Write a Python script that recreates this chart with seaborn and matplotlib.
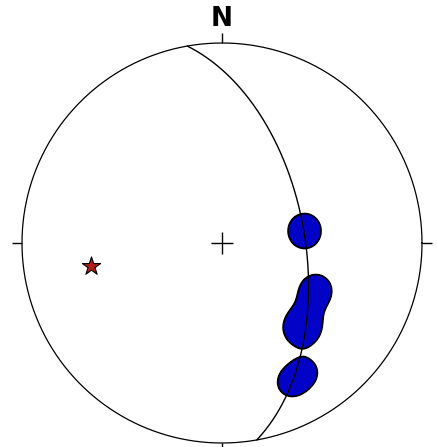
import numpy as np
import matplotlib
matplotlib.use("Agg")
import matplotlib.pyplot as plt
import seaborn as sns

# Plane (right-hand rule strike / dip) and its pole (beta axis)
plane_strike = [350.0]
plane_dip = [56.0]
beta_trend = [260.0]
beta_plunge = [34.0]

# Lineation orientations (trend, plunge) and their relative counts
lin_trend = [79.0, 84.5, 116.6, 127.2, 136.7, 147.4, 153.9]
lin_plunge = [55.4, 55.9, 46.4, 44.6, 41.3, 24.6, 23.0]
lin_weight = [0.53, 0.53, 0.88, 0.39, 1.30, 0.64, 0.64]

KERNEL_SIGMA = 0.06
CONTOUR_LEVEL = 0.393


def project(trend, plunge):
    """Lower-hemisphere equal-area (Schmidt) projection onto the unit circle."""
    t = np.radians(np.asarray(trend, dtype=float))
    p = np.radians(np.asarray(plunge, dtype=float))
    r = np.sqrt(2.0) * np.sin((np.pi / 2 - p) / 2.0)
    return r * np.sin(t), r * np.cos(t)


def great_circle(strike, dip, n=400):
    s = np.radians(strike)
    d = np.radians(dip)
    dd = s + np.pi / 2
    sv = np.array([np.sin(s), np.cos(s), 0.0])
    dv = np.array([np.sin(dd) * np.cos(d), np.cos(dd) * np.cos(d), np.sin(d)])
    t = np.linspace(0, np.pi, n)
    v = np.outer(np.cos(t), sv) + np.outer(np.sin(t), dv)
    down = np.clip(v[:, 2], 0, 1)
    horiz = np.hypot(v[:, 0], v[:, 1])
    r = np.sqrt(1.0 - down)
    return r * v[:, 0] / horiz, r * v[:, 1] / horiz


sns.set_style("white")
fig = plt.figure(figsize=(4.37, 4.47), dpi=100)
ax = fig.add_axes([0, 0, 1, 1])
ax.set_xlim(-1.11, 1.075)
ax.set_ylim(-1.02, 1.215)
ax.set_aspect("equal")
ax.axis("off")

# Primitive circle
ang = np.linspace(0, 2 * np.pi, 721)
sns.lineplot(x=np.cos(ang), y=np.sin(ang), sort=False, color="black",
             linewidth=0.9, ax=ax, estimator=None)

# Cardinal ticks and centre cross
for a, b in [((-1.05, -1.0), (0, 0)), ((1.0, 1.05), (0, 0)),
             ((0, 0), (1.0, 1.05)), ((0, 0), (-1.0, -1.05)),
             ((-0.055, 0.055), (0, 0)), ((0, 0), (-0.055, 0.055))]:
    ax.plot(a, b, color="black", linewidth=1.0, solid_capstyle="butt")

ax.text(0, 1.12, "N", ha="center", va="center", fontsize=19,
        fontweight="bold", family="DejaVu Sans", color="black")

# Density of lineations (Gaussian kernel in projected space)
lx, ly = project(lin_trend, lin_plunge)
g = np.linspace(-1, 1, 600)
X, Y = np.meshgrid(g, g)
D = np.zeros_like(X)
for px, py, w in zip(lx, ly, lin_weight):
    D += w * np.exp(-((X - px) ** 2 + (Y - py) ** 2) / (2 * KERNEL_SIGMA ** 2))
D[X ** 2 + Y ** 2 > 1] = 0
ax.contourf(X, Y, D, levels=[CONTOUR_LEVEL, D.max() + 1], colors=["#0303c8"], zorder=2)
ax.contour(X, Y, D, levels=[CONTOUR_LEVEL], colors=["black"], linewidths=1.3, zorder=3)

# Great circle of the plane
gx, gy = great_circle(plane_strike[0], plane_dip[0])
sns.lineplot(x=gx, y=gy, sort=False, color="black", linewidth=1.0, ax=ax,
             estimator=None, zorder=4)

# Beta axis
bx, by = project(beta_trend, beta_plunge)
sns.scatterplot(x=bx, y=by, marker="*", s=190, color="#b01e1e",
                edgecolor="black", linewidth=0.8, ax=ax, zorder=5)

fig.savefig("out.png", dpi=100)
